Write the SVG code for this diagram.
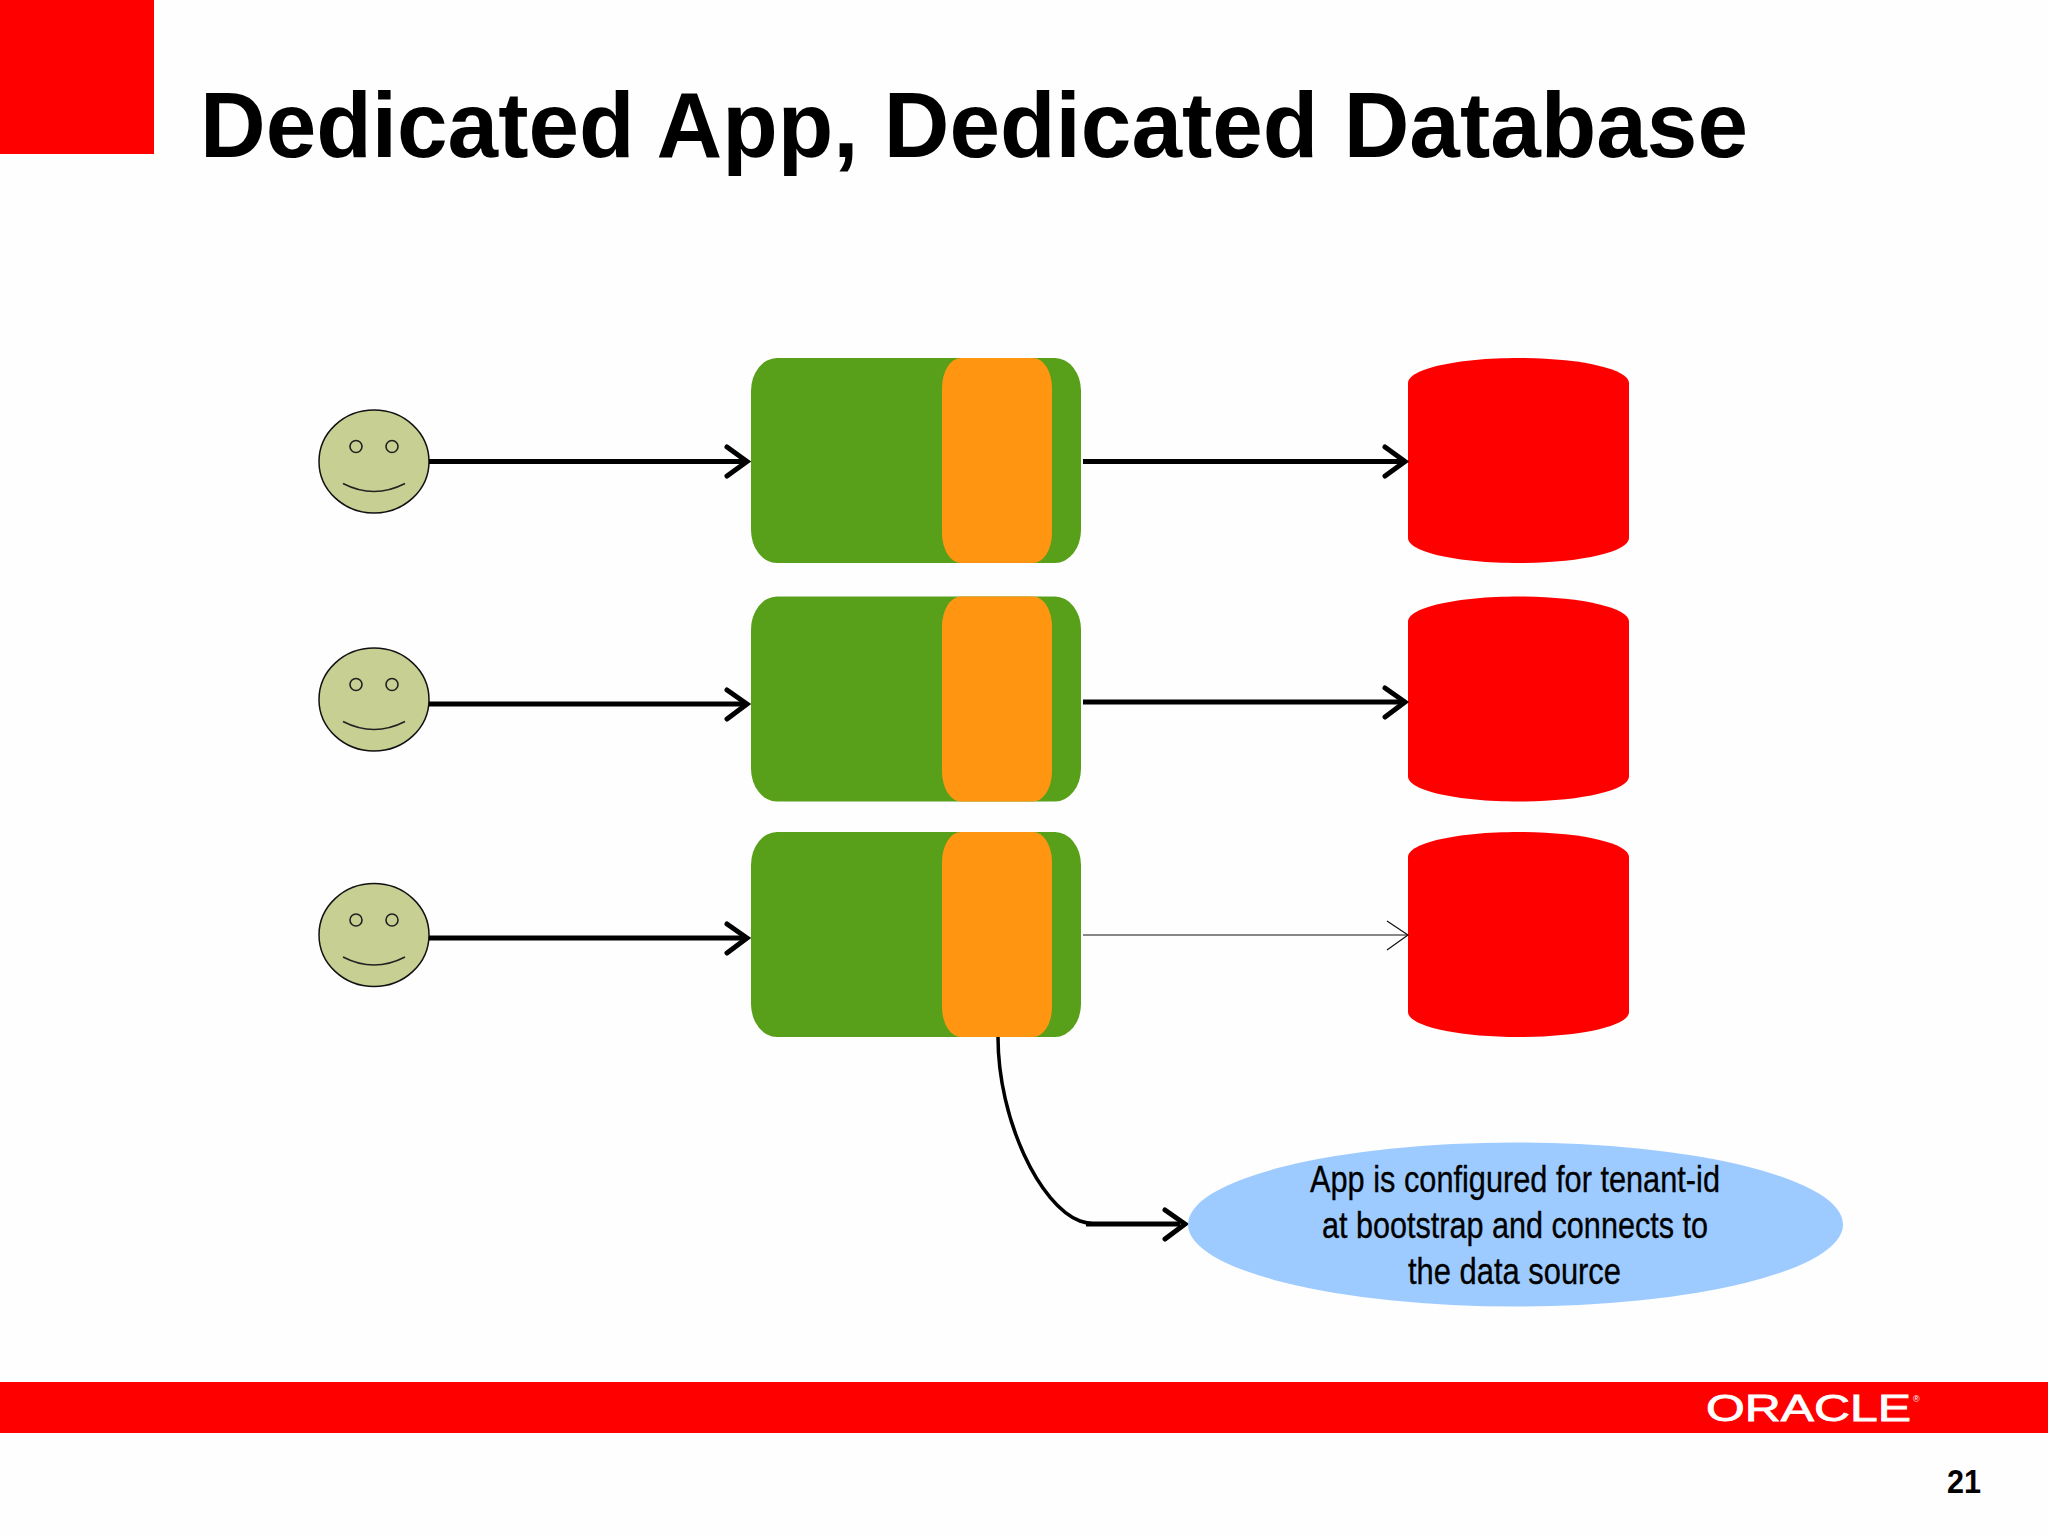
<svg xmlns="http://www.w3.org/2000/svg" width="2048" height="1536" viewBox="0 0 2048 1536">
<defs>
<style>
text{font-family:"Liberation Sans",Arial,sans-serif;fill:#000}
.title{font-size:92px;font-weight:700}
.note{font-size:37px;stroke:#000;stroke-width:.35}
.app{fill:#58a01a}
.orange{fill:#ff9510}
.db{fill:#ff0000}
.face{fill:#c8cf93;stroke:#111;stroke-width:1.5}
.eye{fill:none;stroke:#222;stroke-width:1.6}
.conn{fill:none;stroke:#000;stroke-width:5}
.head{fill:none;stroke:#000;stroke-width:5;stroke-linecap:round;stroke-linejoin:miter}
.thin{fill:none;stroke:#111;stroke-width:1.2}
</style>
<g id="faceShape">
<ellipse class="face" cx="0" cy="0" rx="55" ry="51.500"/>
<circle class="eye" cx="-18" cy="-15" r="6"/>
<circle class="eye" cx="18" cy="-15" r="6"/>
<path class="eye" d="M-31 22Q0 38 31 22"/>
</g>
<g id="appShape">
<rect class="app" x="751" y="0" width="330" height="205" rx="26" ry="33"/>
<rect class="orange" x="942" y="0" width="110" height="205" rx="19" ry="30"/>
</g>
<path id="dbShape" class="db" d="M1408 25C1408 11 1457 0 1518.500 0S1629 11 1629 25V180C1629 194 1580 205 1518.500 205S1408 194 1408 180Z"/>
</defs>
<rect id="background" width="2048" height="1536" fill="#fefefe"/>
<rect id="corner" width="154" height="154" fill="#ff0000"/>
<text id="title" class="title" x="200" y="157" textLength="1548" lengthAdjust="spacingAndGlyphs">Dedicated App, Dedicated Database</text>

<g id="user1"><use href="#faceShape" x="374" y="461.500"/></g>
<g id="user2"><use href="#faceShape" x="374" y="699.500"/></g>
<g id="user3"><use href="#faceShape" x="374" y="935"/></g>
<g id="app1"><use href="#appShape" y="358"/></g>
<g id="app2"><use href="#appShape" y="596.500"/></g>
<g id="app3"><use href="#appShape" y="832"/></g>
<g id="db1"><use href="#dbShape" y="358"/></g>
<g id="db2"><use href="#dbShape" y="596.500"/></g>
<g id="db3"><use href="#dbShape" y="832"/></g>

<g id="connectors">
<path class="conn" d="M429 461.500H744"/><path class="head" d="M727 447L747 461.500L727 476"/>
<path class="conn" d="M429 704H744"/><path class="head" d="M727 690L747 704L727 719"/>
<path class="conn" d="M429 938H744"/><path class="head" d="M727 924L747 938L727 953"/>
<path class="conn" d="M1083 461.500H1402"/><path class="head" d="M1385 447L1405 461.500L1385 476"/>
<path class="conn" d="M1083 702H1402"/><path class="head" d="M1385 688L1405 702L1385 717"/>
<path class="thin" d="M1083 935H1407"/><path class="thin" d="M1387 921L1408 935L1387 950"/>
<path fill="none" stroke="#000" stroke-width="3.500" d="M998 1037C998 1120 1040 1206 1080 1221C1088 1224 1096 1224 1110 1224"/>
<path class="conn" d="M1086 1224H1180"/><path class="head" d="M1165 1210L1185 1224L1165 1239"/>
</g>

<g id="note">
<ellipse cx="1515.500" cy="1224.500" rx="327.500" ry="82" fill="#9ecbff"/>
<text class="note" x="1310" y="1192" textLength="410" lengthAdjust="spacingAndGlyphs">App is configured for tenant-id</text>
<text class="note" x="1322" y="1238" textLength="386" lengthAdjust="spacingAndGlyphs">at bootstrap and connects to</text>
<text class="note" x="1408" y="1284" textLength="213" lengthAdjust="spacingAndGlyphs">the data source</text>
</g>

<rect id="footer" y="1382" width="2048" height="51" fill="#ff0000"/>
<g id="logo">
<text x="1706" y="1421" font-size="36" textLength="205" lengthAdjust="spacingAndGlyphs" style="fill:#fff;stroke:#fff;stroke-width:.8">ORACLE</text>
<text x="1913" y="1402" font-size="9" style="fill:#fff">®</text>
</g>
<text id="page" x="1947" y="1493" font-size="34" font-weight="700" textLength="34" lengthAdjust="spacingAndGlyphs">21</text>
</svg>
